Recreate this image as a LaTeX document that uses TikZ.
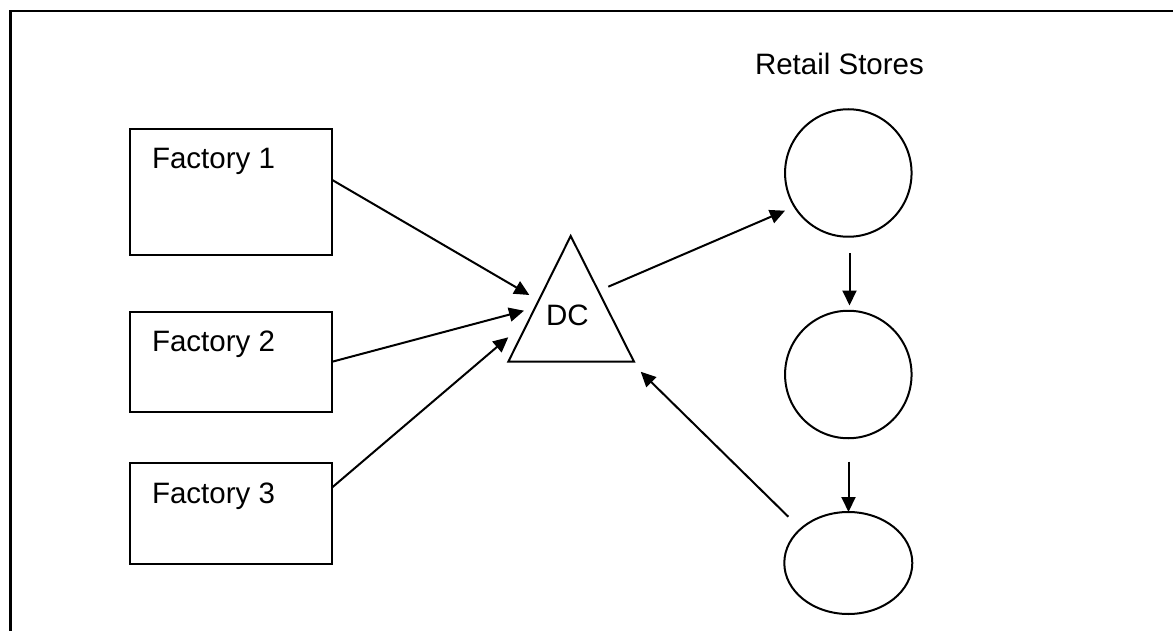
\documentclass[tikz,border=0pt]{standalone}
\usepackage{fontspec}
\setmainfont{Liberation Sans}
\usetikzlibrary{arrows.meta,shapes.geometric}
\begin{document}
\begin{tikzpicture}[x=1pt,y=-1pt,
  every node/.style={inner sep=0pt,outer sep=0pt},
  lbl/.style={anchor=base west,font=\fontsize{29.5}{35}\selectfont},
  box/.style={draw,line width=2.2pt,rectangle},
  store/.style={draw,line width=2pt,ellipse},
  arr/.style={line width=2pt,-{Triangle[length=15pt,width=14pt]}},
  frame/.style={line width=2.5pt}]
\useasboundingbox (0,0) rectangle (1173,631);
\fill[white] (0,0) rectangle (1173,631);
% frame
\coordinate (fbl) at (10.5,640);
\coordinate (ftl) at (10.5,11);
\coordinate (ftr) at (1180,11);
\draw[frame] (fbl) -- (ftl) -- (ftr);
% factories
\node[box,minimum width=202pt,minimum height=126pt] (f1) at (231,192) {};
\node[box,minimum width=202pt,minimum height=100.5pt] (f2) at (231,362) {};
\node[box,minimum width=202pt,minimum height=101pt] (f3) at (231,513.5) {};
\node[lbl] (t1) at (152,169) {Factory 1};
\node[lbl] (t2) at (152,351.5) {Factory 2};
\node[lbl] (t3) at (152,503) {Factory 3};
% DC
\coordinate (dcA) at (570.7,236);
\coordinate (dcL) at (508.3,361.7);
\coordinate (dcR) at (634,361.7);
\draw[line width=2pt,line join=miter] (dcA) -- (dcL) -- (dcR) -- cycle;
\node[lbl] (dc) at (546,325) {DC};
% stores
\node[lbl] (rs) at (755,75) {Retail Stores};
\node[store,minimum width=126.5pt,minimum height=127.5pt] (c1) at (848.3,173) {};
\node[store,minimum width=126.5pt,minimum height=127.5pt] (c2) at (848.3,374.5) {};
\node[store,minimum width=128pt,minimum height=102pt] (c3) at (848.3,563) {};
% connector ends
\coordinate (a1s) at (332.3,180);
\coordinate (a1e) at (529.3,295);
\coordinate (a2s) at (332.3,361.7);
\coordinate (a2e) at (524,310.7);
\coordinate (a3s) at (332.3,487.3);
\coordinate (a3e) at (508.3,337.3);
\coordinate (a4s) at (608.3,286.7);
\coordinate (a4e) at (785,210.7);
\coordinate (a5s) at (788.3,516.7);
\coordinate (a5e) at (640.7,371.7);
\coordinate (a6s) at (849.5,253.3);
\coordinate (a6e) at (849.5,305.5);
\coordinate (a7s) at (848.5,461.7);
\coordinate (a7e) at (848.5,512);
\draw[arr] (a1s) -- (a1e);
\draw[arr] (a2s) -- (a2e);
\draw[arr] (a3s) -- (a3e);
\draw[arr] (a4s) -- (a4e);
\draw[arr] (a5s) -- (a5e);
\draw[arr] (a6s) -- (a6e);
\draw[arr] (a7s) -- (a7e);
\end{tikzpicture}
\end{document}
